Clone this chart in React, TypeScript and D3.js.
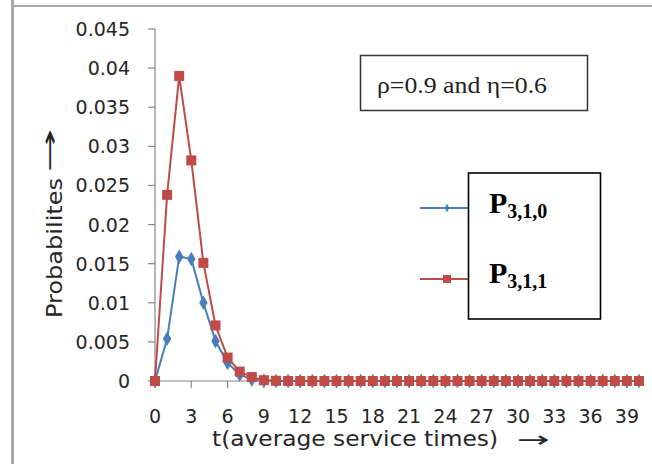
import React from "react";
import * as d3 from "d3";

const times: number[] = d3.range(0, 41);
const p310: number[] = [0, 0.0054, 0.0159, 0.0156, 0.0100, 0.0051, 0.0023, 0.0008, 0.0002, 0.00005,
  0, 0, 0, 0, 0, 0, 0, 0, 0, 0, 0, 0, 0, 0, 0, 0, 0, 0, 0, 0, 0, 0, 0, 0, 0, 0, 0, 0, 0, 0, 0];
const p311: number[] = [0, 0.0238, 0.0390, 0.0282, 0.0151, 0.0071, 0.0030, 0.0012, 0.0005, 0.0001,
  0.00003, 0, 0, 0, 0, 0, 0, 0, 0, 0, 0, 0, 0, 0, 0, 0, 0, 0, 0, 0, 0, 0, 0, 0, 0, 0, 0, 0, 0, 0, 0];
const yTicks: number[] = [0, 0.005, 0.01, 0.015, 0.02, 0.025, 0.03, 0.035, 0.04, 0.045];
const yTickLabels: string[] = ["0", "0.005", "0.01", "0.015", "0.02", "0.025", "0.03", "0.035", "0.04", "0.045"];
const xTicks: number[] = d3.range(0, 40, 3);
const seriesNames: string[] = ["P", "P"];
const seriesSubs: string[] = ["3,1,0", "3,1,1"];
const paramText = "ρ=0.9 and η=0.6";
const xTitle = "t(average service times)";
const yTitle = "Probabilites";

const BLUE = "#4a7ebb";
const RED = "#be4b48";
const AXIS = "#868686";
const TXT = "#262626";
const SERIF = "'Liberation Serif', 'Times New Roman', serif";

export default function App() {
  const x = d3.scaleLinear().domain([0, 40]).range([155, 639]);
  const y = d3.scaleLinear().domain([0, 0.045]).range([381, 29]);
  const line = d3.line<number>().x((_, i) => x(times[i])).y((d) => y(d));

  const diamond = d3.symbol().type(d3.symbolDiamond).size(62)() as string;
  const diamondSmall = d3.symbol().type(d3.symbolDiamond).size(20)() as string;

  return (
    <div style={{ position: "absolute", left: 0, top: 0 }}>
      <svg width={652} height={464} style={{ display: "block", background: "#fff" }}>
        {/* outer chart border */}
        <line x1={12.5} y1={0} x2={12.5} y2={464} stroke="#a8a8a8" strokeWidth={3} />
        <line x1={11} y1={6} x2={652} y2={6} stroke="#a8a8a8" strokeWidth={2} />

        {/* axes */}
        <line x1={x(0)} y1={y(0.045)} x2={x(0)} y2={y(0)} stroke={AXIS} strokeWidth={1.2} />
        <line x1={x(0)} y1={y(0)} x2={x(40) + 4} y2={y(0)} stroke={AXIS} strokeWidth={1.2} />
        {yTicks.map((t, i) => (
          <g key={"yt" + i}>
            <line x1={x(0) - 7} x2={x(0)} y1={y(t)} y2={y(t)} stroke={AXIS} strokeWidth={1.2} />
            <text x={130} y={y(t) + 7} textAnchor="end" fontFamily="DejaVu Sans" fontSize={19} fill={TXT}>
              {yTickLabels[i]}
            </text>
          </g>
        ))}
        {xTicks.map((t) => (
          <g key={"xt" + t}>
            <line x1={x(t)} x2={x(t)} y1={y(0)} y2={y(0) + 7} stroke={AXIS} strokeWidth={1.2} />
            <text x={x(t)} y={423} textAnchor="middle" fontFamily="DejaVu Sans" fontSize={19} fill={TXT}>
              {String(t)}
            </text>
          </g>
        ))}

        {/* series P3,1,0 */}
        <path d={line(p310) as string} fill="none" stroke={BLUE} strokeWidth={2} />
        {p310.map((v, i) => (
          <path key={"b" + i} d={diamond} transform={`translate(${x(times[i])},${y(v)})`} fill={BLUE} />
        ))}
        {/* series P3,1,1 */}
        <path d={line(p311) as string} fill="none" stroke={RED} strokeWidth={2} />
        {p311.map((v, i) => (
          <rect key={"r" + i} x={x(times[i]) - 5} y={y(v) - 5} width={10} height={10} fill={RED} />
        ))}

        {/* axis titles */}
        <text x={212} y={446} fontFamily="DejaVu Sans" fontSize={22} fill={TXT} textLength={286} lengthAdjust="spacingAndGlyphs">
          {xTitle}
        </text>
        <text x={517} y={447} fontFamily="DejaVu Sans" fontSize={22} fill={TXT} textLength={33} lengthAdjust="spacingAndGlyphs">
          →
        </text>
        <text transform="translate(62,318) rotate(-90)" fontFamily="DejaVu Sans" fontSize={22} fill={TXT} textLength={140} lengthAdjust="spacingAndGlyphs">
          {yTitle}
        </text>
        <text transform="translate(57,172) rotate(-90)" fontFamily="DejaVu Sans" fontSize={22} fill={TXT} textLength={44} lengthAdjust="spacingAndGlyphs">
          →
        </text>

        {/* parameter box */}
        <rect x={360.5} y={55.5} width={227} height={55} fill="#fff" stroke="#333" strokeWidth={1.5} />
        <text x={377} y={93} fontFamily={SERIF} fontSize={23} fill="#222" textLength={170} lengthAdjust="spacingAndGlyphs">
          {paramText}
        </text>

        {/* legend */}
        <line x1={420} x2={468} y1={208} y2={208} stroke={BLUE} strokeWidth={2} />
        <path d={diamondSmall} transform="translate(447,208)" fill={BLUE} />
        <line x1={420} x2={468} y1={279} y2={279} stroke={RED} strokeWidth={2} />
        <rect x={443} y={275} width={8} height={8} fill={RED} />
        <rect x={468.5} y={173} width={132} height={146} fill="#fff" stroke="#000" strokeWidth={1.6} />
        {seriesNames.map((n, i) => (
          <text key={"lg" + i} x={489} y={i === 0 ? 213 : 283} fontFamily={SERIF} fontWeight="bold" fill="#000">
            <tspan fontSize={30}>{n}</tspan>
            <tspan fontSize={20} dy={5}>{seriesSubs[i]}</tspan>
          </text>
        ))}
      </svg>
    </div>
  );
}
